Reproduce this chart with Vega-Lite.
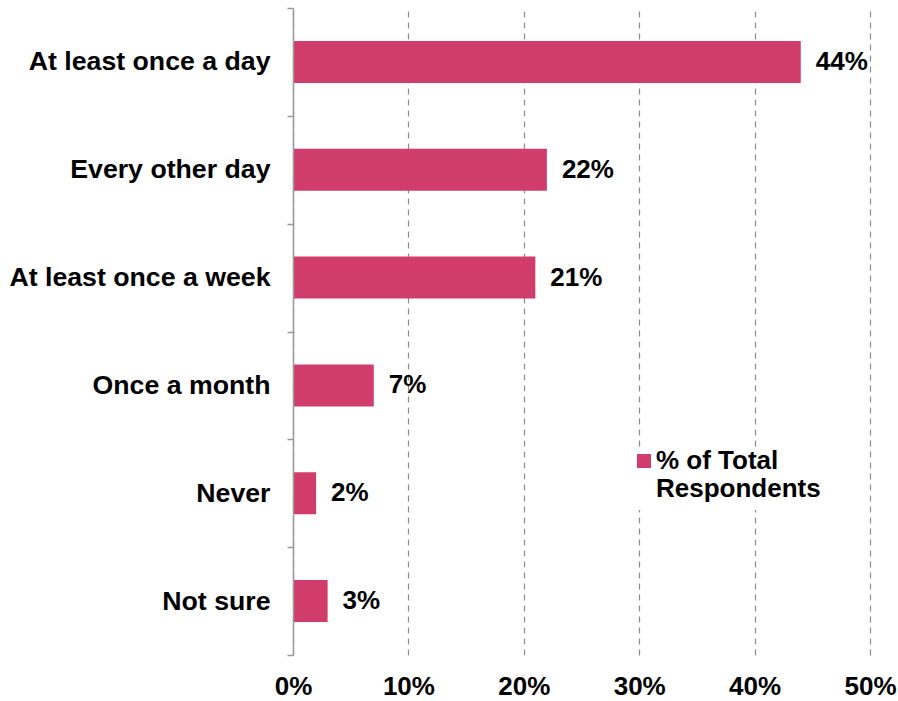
{
  "$schema": "https://vega.github.io/schema/vega-lite/v6.json",
  "width": 577,
  "height": 647,
  "autosize": "none",
  "padding": {"left": 293, "top": 8, "right": 28, "bottom": 46},
  "background": "white",
  "config": {
    "font": "Liberation Sans",
    "view": {"stroke": null}
  },
  "data": {
    "values": [
      {"category": "At least once a day", "value": 0.44, "series": "% of Total Respondents"},
      {"category": "Every other day", "value": 0.22, "series": "% of Total Respondents"},
      {"category": "At least once a week", "value": 0.21, "series": "% of Total Respondents"},
      {"category": "Once a month", "value": 0.07, "series": "% of Total Respondents"},
      {"category": "Never", "value": 0.02, "series": "% of Total Respondents"},
      {"category": "Not sure", "value": 0.03, "series": "% of Total Respondents"}
    ]
  },
  "encoding": {
    "y": {
      "field": "category",
      "type": "nominal",
      "sort": null,
      "scale": {"paddingInner": 0, "paddingOuter": 0},
      "axis": {
        "title": null,
        "tickBand": "extent",
        "tickSize": 6,
        "tickColor": "#999999",
        "tickWidth": 1.5,
        "domainColor": "#999999",
        "domainWidth": 1.5,
        "labelFont": "Liberation Sans",
        "labelFontSize": 26.7,
        "labelFontWeight": "bold",
        "labelColor": "#000000",
        "labelPadding": 17,
        "labelLimit": 400,
        "zindex": 1
      }
    },
    "x": {
      "field": "value",
      "type": "quantitative",
      "scale": {"domain": [0, 0.5], "nice": false},
      "axis": {
        "title": null,
        "values": [0, 0.1, 0.2, 0.3, 0.4, 0.5],
        "format": ".0%",
        "domain": false,
        "ticks": false,
        "grid": true,
        "gridDash": [6, 5],
        "gridColor": "#8c8c8c",
        "gridWidth": 1.2,
        "labelFont": "Liberation Sans",
        "labelFontSize": 26,
        "labelFontWeight": "bold",
        "labelColor": "#000000",
        "labelPadding": 18,
        "labelFlush": false
      }
    }
  },
  "layer": [
    {
      "mark": {"type": "bar", "height": {"band": 0.39}},
      "encoding": {
        "color": {
          "field": "series",
          "type": "nominal",
          "scale": {"range": ["#D03C6C"]},
          "legend": {
            "title": null,
            "orient": "none",
            "legendX": 330,
            "legendY": 440,
            "fillColor": "white",
            "padding": 8,
            "symbolType": "M-1,-2.14H1V-0.14H-1Z",
            "symbolSize": 196,
            "symbolStrokeWidth": 0,
            "symbolOpacity": 1,
            "labelFont": "Liberation Sans",
            "labelFontSize": 26,
            "labelFontWeight": "bold",
            "labelColor": "#000000",
            "labelLimit": 300,
            "labelOffset": -1,
            "labelExpr": "['% of Total', 'Respondents']",
            "labelBaseline": "alphabetic",
            "labelLineHeight": 31
          }
        }
      }
    },
    {
      "mark": {
        "type": "text",
        "align": "left",
        "baseline": "middle",
        "dx": 15,
        "font": "Liberation Sans",
        "fontSize": 26,
        "fontWeight": "bold",
        "color": "#000000"
      },
      "encoding": {
        "text": {"field": "value", "type": "quantitative", "format": ".0%"},
        "x": {"field": "value", "type": "quantitative"}
      }
    }
  ]
}
